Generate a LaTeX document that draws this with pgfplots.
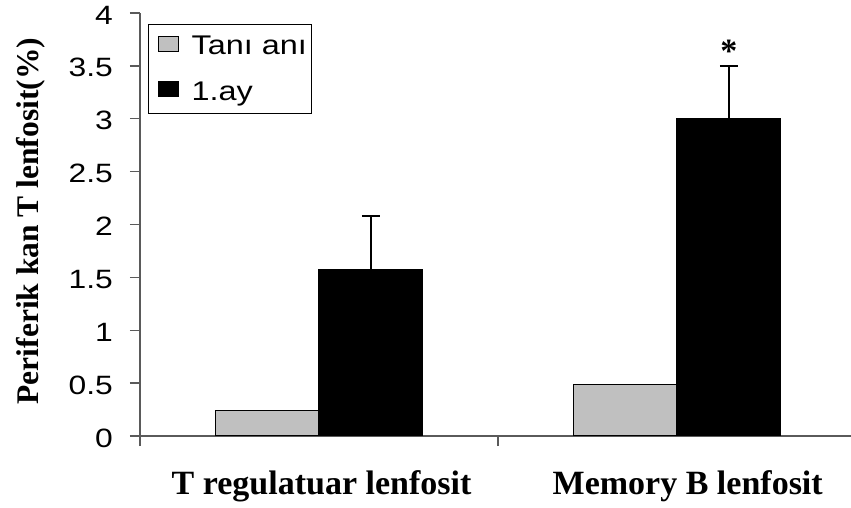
\documentclass[border=0pt]{standalone}
\usepackage{fontspec}
\setmainfont{Liberation Serif}
\setsansfont{Liberation Sans}
\usepackage{pgfplots}
\pgfplotsset{compat=1.18}
\definecolor{barGray}{RGB}{192,192,192}
\definecolor{axGray}{RGB}{90,90,90}
\newcommand{\sfs}[1]{\scalebox{1.2}[1]{#1}}
\begin{document}
\begin{tikzpicture}
\begin{axis}[
  name=ax, at={(0,0)}, anchor=south west,
  scale only axis, width=711pt, height=423pt,
  xmin=-0.5, xmax=1.486, ymin=0, ymax=4,
  axis lines*=left,
  axis line style={draw=axGray, line width=1.3pt},
  tick align=outside, major tick length=10pt,
  tick style={draw=axGray, line width=1.3pt},
  ytick={0,0.5,1,1.5,2,2.5,3,3.5,4},
  yticklabels={\sfs{0},\sfs{0.5},\sfs{1},\sfs{1.5},\sfs{2},\sfs{2.5},\sfs{3},\sfs{3.5},\sfs{4}},
  yticklabel style={font=\sffamily\fontsize{26.5}{26.5}\selectfont, anchor=east, inner xsep=0pt, yshift=-2pt},
  yticklabel shift=17pt,
  xtick={-0.5,0.5}, xticklabels={},
  extra x ticks={0.007,1.03},
  extra x tick labels={T regulatuar lenfosit, Memory B lenfosit},
  extra x tick style={major tick length=0pt, xticklabel shift=0pt, tick label style={anchor=base, yshift=-59pt, font=\bfseries\fontsize{34}{34}\selectfont}},
  ylabel={Periferik kan T lenfosit(\%)},
  ylabel style={font=\bfseries\fontsize{31.5}{31.5}\selectfont, at={(axis description cs:-0.1533,0.508)}, anchor=center},
  legend style={at={(0,1)}, anchor=north west, xshift=8pt, yshift=-11pt, draw=black, line width=0.8pt,
    inner xsep=3pt, inner ysep=10pt, row sep=21pt, font=\sffamily\fontsize{27}{27}\selectfont,
    nodes={inner xsep=2pt},
    /tikz/every odd column/.append style={column sep=11pt}},
  legend cell align=left,
  legend image code/.code={\path (-6pt,0pt); \draw[#1, line width=1pt] (0pt,-5pt) rectangle (20pt,10pt);},
]
\addplot[ybar, bar width=0.29, bar shift=0pt, fill=barGray, draw=black, line width=1.3pt]
  coordinates {(-0.145,0.24) (0.855,0.49)};
\addlegendentry{\sfs{Tanı anı}}
\addplot[ybar, bar width=0.29, bar shift=0pt, fill=black, draw=black, line width=1.3pt,
  error bars/.cd, y dir=plus, y explicit,
  error bar style={line width=1.5pt, black},
  error mark options={rotate=90, mark size=9pt, line width=1.5pt, black}]
  coordinates {(0.145,1.57) +- (0,0.51) (1.145,3.0) +- (0,0.5)};
\addlegendentry{\sfs{1.ay}}
\node[font=\bfseries\fontsize{34}{34}\selectfont] at (axis cs:1.145,3.64) {*};
\end{axis}
\pgfresetboundingbox
\path (ax.south west) ++(-140pt,-72pt) rectangle ++(851pt,508pt);
\end{tikzpicture}
\end{document}
